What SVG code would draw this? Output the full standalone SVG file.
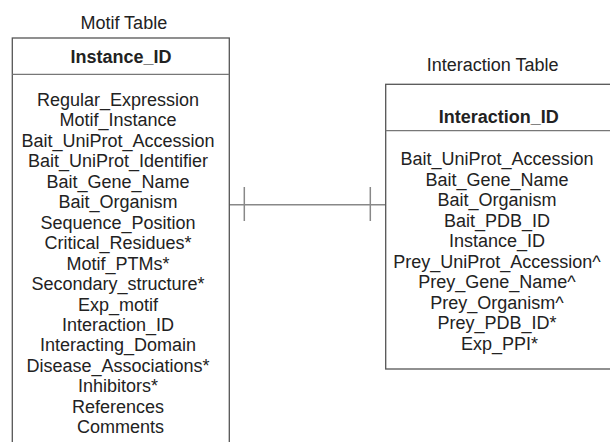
<svg xmlns="http://www.w3.org/2000/svg" width="610" height="442" viewBox="0 0 610 442">
<style>
.box{fill:#fff;stroke:#555;stroke-width:1.3}
.div{stroke:#777;stroke-width:1.3}
.t{font-family:"Liberation Sans",Arial,sans-serif;font-size:18px;fill:#222;text-anchor:middle}
.h{font-weight:bold}
.conn{stroke:#888;stroke-width:1.5;fill:none}
</style>
<rect width="610" height="442" fill="#fff"/>
<g id="connectors">
<line class="conn" x1="229" y1="204.7" x2="386" y2="204.7"/>
<line class="conn" x1="244.3" y1="187" x2="244.3" y2="221"/>
<line class="conn" x1="370.3" y1="187" x2="370.3" y2="221"/>
</g>
<g id="motif_table">
<text class="t" x="123.8" y="29">Motif Table</text>
<rect class="box" x="12.3" y="38" width="217" height="420"/>
<line class="div" x1="12.3" y1="74.3" x2="229.3" y2="74.3"/>
<text class="t h" x="121" y="62.7">Instance_ID</text>
<text class="t" x="120.5">
<tspan x="120.5" y="106">Regular_Expression</tspan>
<tspan x="120.5" y="126.45">Motif_Instance</tspan>
<tspan x="120.5" y="146.9">Bait_UniProt_Accession</tspan>
<tspan x="120.5" y="167.35">Bait_UniProt_Identifier</tspan>
<tspan x="120.5" y="187.8">Bait_Gene_Name</tspan>
<tspan x="120.5" y="208.25">Bait_Organism</tspan>
<tspan x="120.5" y="228.7">Sequence_Position</tspan>
<tspan x="120.5" y="249.15">Critical_Residues*</tspan>
<tspan x="120.5" y="269.6">Motif_PTMs*</tspan>
<tspan x="120.5" y="290.05">Secondary_structure*</tspan>
<tspan x="120.5" y="310.5">Exp_motif</tspan>
<tspan x="120.5" y="330.95">Interaction_ID</tspan>
<tspan x="120.5" y="351.4">Interacting_Domain</tspan>
<tspan x="120.5" y="371.85">Disease_Associations*</tspan>
<tspan x="120.5" y="392.3">Inhibitors*</tspan>
<tspan x="120.5" y="412.75">References</tspan>
<tspan x="120.5" y="433.2">Comments</tspan>
</text>
</g>
<g id="interaction_table">
<text class="t" x="492.7" y="71">Interaction Table</text>
<rect class="box" x="385.7" y="84.3" width="227" height="284.7"/>
<line class="div" x1="385.7" y1="130.7" x2="612.7" y2="130.7"/>
<text class="t h" x="498.8" y="122.7">Interaction_ID</text>
<text class="t" x="499.5">
<tspan x="499.5" y="165">Bait_UniProt_Accession</tspan>
<tspan x="499.5" y="185.5">Bait_Gene_Name</tspan>
<tspan x="499.5" y="206">Bait_Organism</tspan>
<tspan x="499.5" y="226.5">Bait_PDB_ID</tspan>
<tspan x="499.5" y="247">Instance_ID</tspan>
<tspan x="499.5" y="267.5">Prey_UniProt_Accession^</tspan>
<tspan x="499.5" y="288">Prey_Gene_Name^</tspan>
<tspan x="499.5" y="308.5">Prey_Organism^</tspan>
<tspan x="499.5" y="329">Prey_PDB_ID*</tspan>
<tspan x="499.5" y="349.5">Exp_PPI*</tspan>
</text>
</g>
</svg>
